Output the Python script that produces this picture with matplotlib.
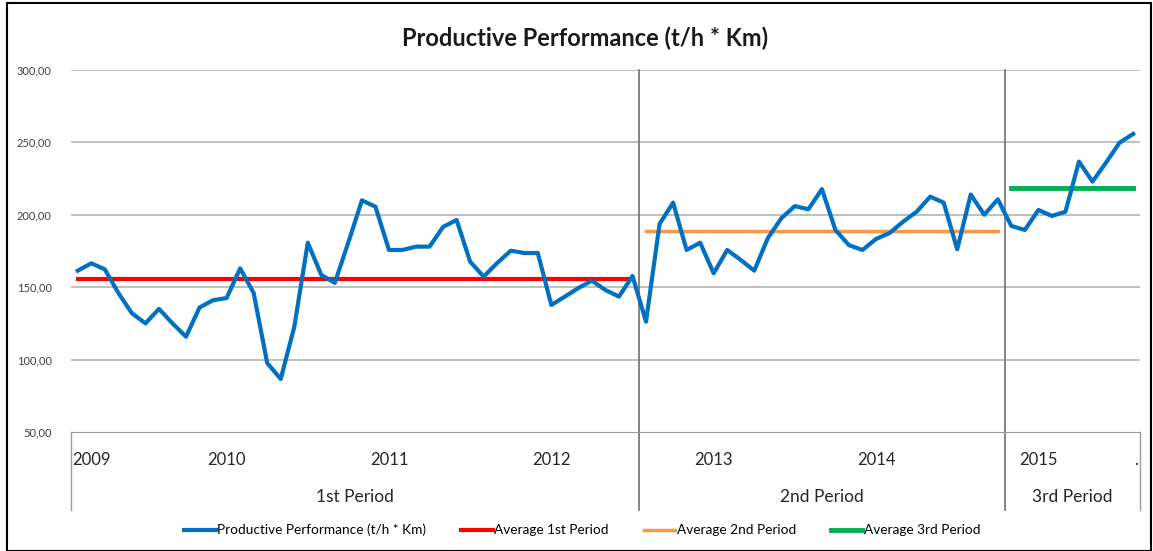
import numpy as np
import matplotlib.pyplot as plt
from matplotlib.patches import Rectangle

plt.rcParams['font.family'] = ['Lato', 'DejaVu Sans']

# monthly values, Jan 2009 - Jul 2015
performance = [
    161.4, 166.5, 162.3, 146.0, 132.0, 125.0, 135.0, 125.0, 115.8, 136.0,
    141.0, 142.5, 163.0, 146.0, 97.6, 86.6, 122.5, 180.7, 158.4, 153.0,
    181.0, 210.0, 205.6, 175.7, 175.7, 178.0, 178.0, 191.6, 196.4, 167.6,
    157.3, 166.7, 175.2, 173.6, 173.6, 137.7, 143.5, 149.4, 154.5, 148.0,
    143.5, 157.7,
    126.2, 193.6, 208.4, 175.7, 180.7, 159.6, 175.7, 168.8, 161.4, 183.8,
    197.6, 206.0, 203.8, 217.7, 189.5, 179.0, 175.7, 183.3, 187.4, 195.2,
    202.1, 212.5, 208.4, 176.2, 214.0, 200.0, 210.7,
    192.3, 189.5, 203.3, 199.2, 202.1, 236.7, 222.9, 236.0, 249.8, 255.8,
]
period_sizes = [42, 27, 10]
period_names = ['1st Period', '2nd Period', '3rd Period']
period_avgs = [155.5, 188.7, 218.3]
avg_colors = ['#FF0000', '#F79646', '#00B050']
avg_labels = ['Average 1st Period', 'Average 2nd Period', 'Average 3rd Period']
year_labels = ['2009', '2010', '2011', '2012', '2013', '2014', '2015', '.']
year_pos = [-0.4, 11, 23, 35, 47, 59, 71, 78.2]

x = np.arange(len(performance))
y_ticks = [50, 100, 150, 200, 250, 300]

fig = plt.figure(figsize=(11.53, 5.51), dpi=100)
ax = fig.add_axes([0.0616, 0.216, 0.927, 0.657])

for t in y_ticks[1:]:
    ax.axhline(t, color='#b4b4b4', lw=1.2, zorder=1)

ax.plot(x, performance, color='#0070C0', lw=3, label='Productive Performance (t/h * Km)', zorder=4)

start = 0
bounds = []
for n, avg, c, lab in zip(period_sizes, period_avgs, avg_colors, avg_labels):
    seg = x[start:start + n]
    lw = 3.5 if c == '#00B050' else (2.5 if c == '#F79646' else 3)
    ax.plot(seg, [avg] * n, color=c, lw=lw, label=lab, zorder=3)
    bounds.append((start - 0.5, start + n - 0.5))
    start += n

ax.set_xlim(-0.5, len(performance) - 0.5)
ax.set_ylim(50, 300)
ax.set_yticks(y_ticks)
ax.set_yticklabels([f'{t:.2f}'.replace('.', ',') for t in y_ticks], fontsize=8, color='#404040')
ax.tick_params(axis='y', length=0, pad=14)
ax.set_xticks([])
for s in ['top', 'right', 'left']:
    ax.spines[s].set_visible(False)
ax.spines['bottom'].set_color('#9a9a9a')

# period dividers and category area lines
xt = ax.get_xaxis_transform()
for b in bounds[1:]:
    ax.plot([b[0], b[0]], [-0.215, 1.0], transform=xt, color='#6f6f6f', lw=1.2, clip_on=False, zorder=2)
for xe in [-0.5, len(performance) - 0.5]:
    ax.plot([xe, xe], [-0.215, 0.0], transform=xt, color='#9a9a9a', lw=1, clip_on=False)

for lab, p in zip(year_labels, year_pos):
    ha = 'left' if lab == '2009' else 'center'
    ax.text(p, -0.077, lab, transform=xt, ha=ha, va='center', fontsize=12, color='#262626')
for (b0, b1), name in zip(bounds, period_names):
    ax.text((b0 + b1) / 2, -0.18, name, transform=xt, ha='center', va='center', fontsize=12.5, color='#262626')

fig.text(0.507, 0.93, 'Productive Performance (t/h * Km)', ha='center', va='center',
         fontsize=17, fontweight='bold', color='#1a1a1a')

fig.legend(loc='center', bbox_to_anchor=(0.505, 0.038), ncol=4, frameon=False, fontsize=9.8,
           handlelength=2.3, handletextpad=0.1, columnspacing=2.6)

fig.patches.append(Rectangle((0.006, 0.0), 0.992, 0.995, transform=fig.transFigure,
                             fill=False, edgecolor='black', lw=1.5))

plt.savefig('out.png', dpi=100)
